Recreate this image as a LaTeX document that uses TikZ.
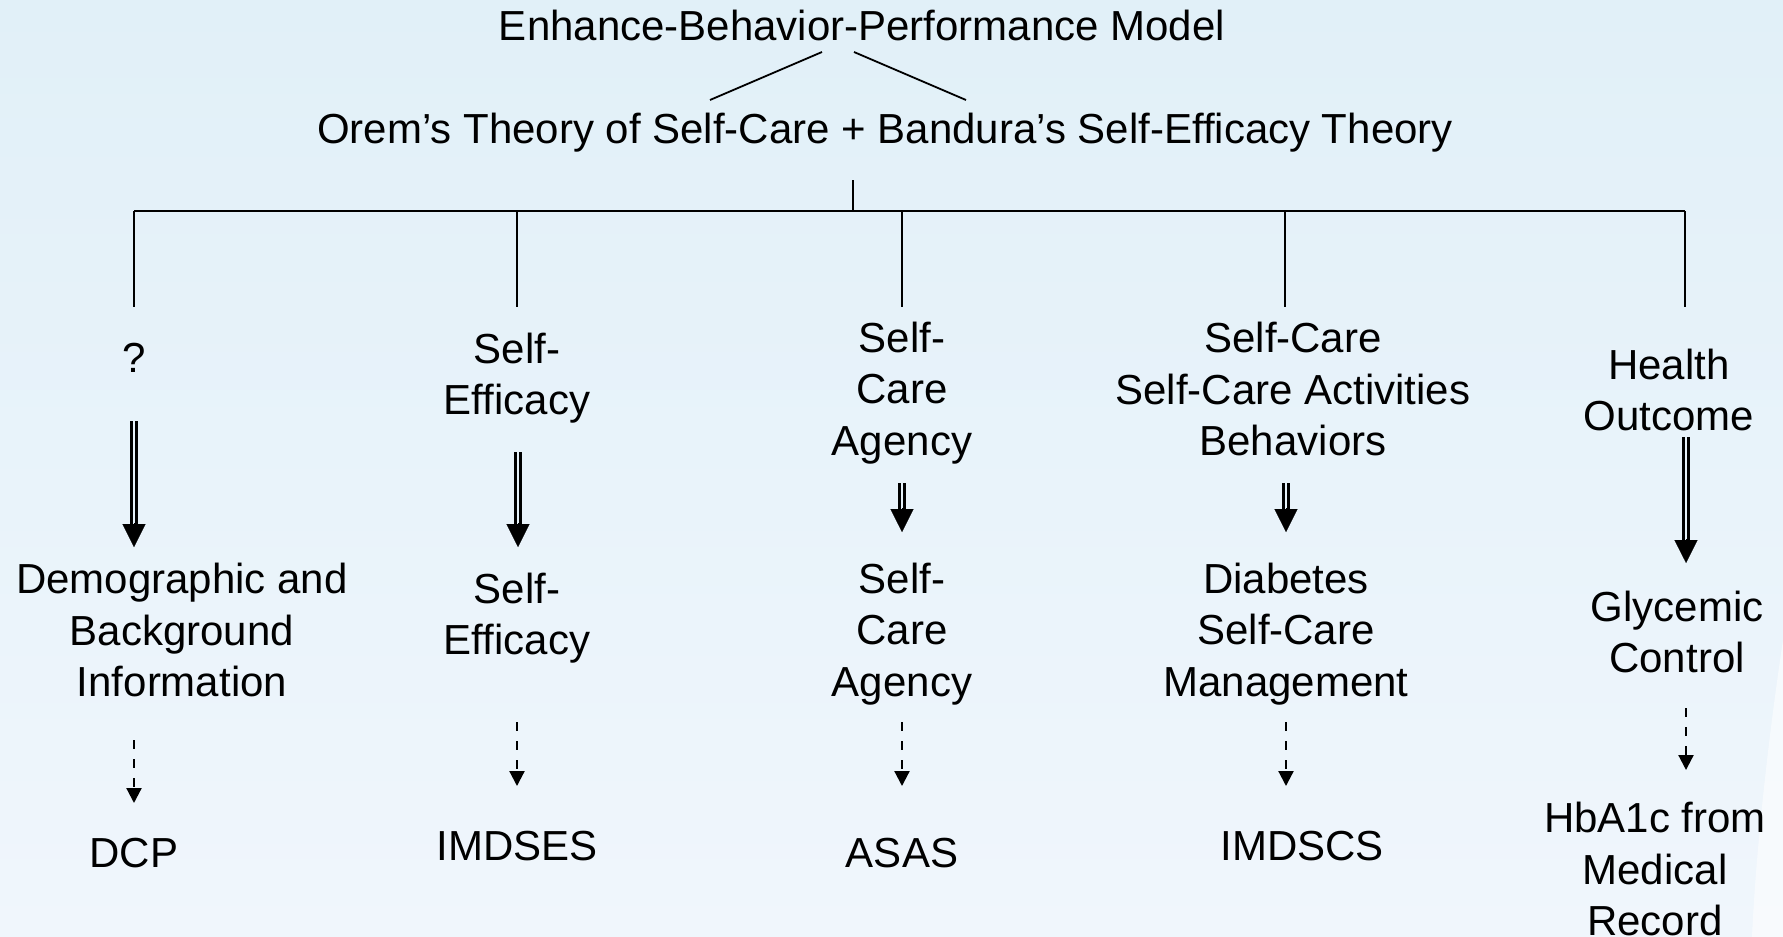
\documentclass[tikz,border=0pt]{standalone}
\usepackage{fontspec}
\setmainfont{Liberation Sans}
\usetikzlibrary{arrows.meta,calc}
\definecolor{bgtop}{HTML}{E1F0F8}
\definecolor{bgbot}{HTML}{F0F6FC}
\definecolor{bgmid}{HTML}{E6F2FA}
\tikzset{
  lbl/.style={align=center,inner sep=0pt,font=\fontsize{21}{25.6}\selectfont},
  tree/.style={line width=0.9pt},
  dblshaft/.style={line width=1.35pt,double=bgmid,double distance=1.15pt},
  dblhead/.style={-{Triangle[width=11.5pt,length=11.5pt]},line width=0.1pt},
  dashedarrow/.style={line width=1.1pt,dash pattern=on 4.5pt off 5pt,-{Triangle[width=7.5pt,length=7.5pt]}}
}
\begin{document}
\begin{tikzpicture}[line cap=butt,line join=miter,x=0.5pt,y=-0.5pt]
\useasboundingbox (0,0) rectangle (1783,937);
\shade[top color=bgtop,bottom color=bgbot] (0,0) rectangle (1783,937);
\fill[white,opacity=0.55] (1783,640) .. controls (1768,740) and (1756,850) .. (1752,937) -- (1783,937) -- cycle;
% titles
\node[lbl] (title) at (862,25) {Enhance-Behavior-Performance Model};
\node[lbl] (theory) at (885,133) {Orem’s Theory of Self-Care + Bandura’s Self-Efficacy Theory};
\coordinate (tl) at (822,52);
\coordinate (tr) at (854,52);
\coordinate (bl) at (710,100);
\coordinate (br) at (966,100);
\draw[tree] (tl) -- (bl);
\draw[tree] (tr) -- (br);
% bus
\coordinate (hub) at (853,180);
\coordinate (bus) at (853,211);
\coordinate (busl) at (134,211);
\coordinate (busr) at (1685,211);
\draw[tree] (hub) -- (bus);
\draw[tree] (busl) -- (busr);
\foreach \x in {134,517,902,1285,1685}
  \draw[tree] (\x,211) -- (\x,307);
% constructs
\node[lbl] (q) at (134,358) {?};
\node[lbl] (se) at (517,378) {Self-\\Efficacy};
\node[lbl] (sca) at (902,393) {Self-\\Care\\Agency};
\node[lbl] (scb) at (1293,389) {Self-Care\\Self-Care Activities\\Behaviors};
\node[lbl] (ho) at (1669,390) {Health\\Outcome};
% variables
\node[lbl] (demo) at (182,630) {Demographic and\\Background\\Information};
\node[lbl] (se2) at (517,618) {Self-\\Efficacy};
\node[lbl] (sca2) at (902,634) {Self-\\Care\\Agency};
\node[lbl] (dscm) at (1286,634) {Diabetes\\Self-Care\\Management};
\node[lbl] (gc) at (1677,632) {Glycemic\\Control};
% instruments
\node[lbl] (dcp) at (134,853) {DCP};
\node[lbl] (imdses) at (517,846) {IMDSES};
\node[lbl] (asas) at (902,853) {ASAS};
\node[lbl] (imdscs) at (1302,846) {IMDSCS};
\node[lbl] (hba) at (1655,869) {HbA1c from\\Medical\\Record};
% double arrows
\coordinate (a1) at (134,421); \coordinate (b1) at (134,547);
\coordinate (a2) at (518,452); \coordinate (b2) at (518,547);
\coordinate (a3) at (902,483); \coordinate (b3) at (902,532);
\coordinate (a4) at (1286,483); \coordinate (b4) at (1286,532);
\coordinate (a5) at (1686,437); \coordinate (b5) at (1686,563);
\foreach \i in {1,...,5}{
  \draw[dblshaft,shorten >=9pt] (a\i) -- (b\i);
  \draw[dblhead] ($(b\i)+(0,-24)$) -- (b\i);
}
% dashed arrows
\coordinate (c1) at (134,740); \coordinate (e1) at (134,803);
\coordinate (c2) at (517,722); \coordinate (e2) at (517,786);
\coordinate (c3) at (902,722); \coordinate (e3) at (902,786);
\coordinate (c4) at (1286,722); \coordinate (e4) at (1286,786);
\coordinate (c5) at (1686,708); \coordinate (e5) at (1686,770);
\foreach \i in {1,...,5}
  \draw[dashedarrow] (c\i) -- (e\i);
\end{tikzpicture}
\end{document}
